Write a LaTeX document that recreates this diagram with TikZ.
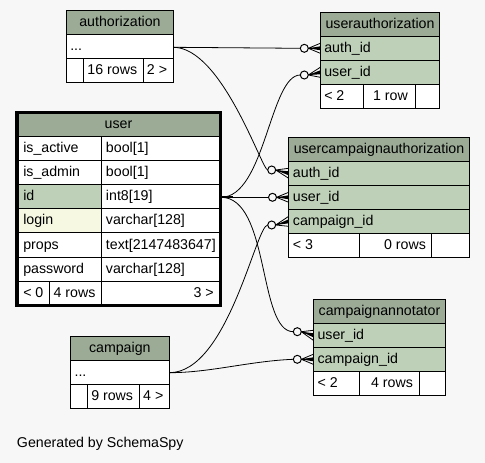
\documentclass[tikz,border=0pt]{standalone}
\usepackage{fontspec}
\setmainfont{Liberation Sans}
\newcommand\tblfont{\fontsize{10.65}{12}\selectfont}
\definecolor{bgc}{HTML}{F7F7F7}
\definecolor{hdr}{HTML}{9BAB96}
\definecolor{keyc}{HTML}{BED1B8}
\definecolor{idxc}{HTML}{F6F8E2}
\tikzset{
  txt/.style={inner sep=0pt, font=\tblfont, text=black},
  cellb/.style={draw=black, line width=0.75pt},
  conn/.style={draw=black, line width=0.6pt},
  ring/.style={draw=black, line width=0.75pt, fill=bgc},
}
\newcommand\crowft[4]{%
  \draw[conn] (#1,#2) -- (#3,#4-5) (#1,#2) -- (#3,#4) (#1,#2) -- (#3,#4+5);
  \fill[black] (#1,#2) -- (#3,#4-2) -- (#3,#4+2) -- cycle;}
\begin{document}
\begin{tikzpicture}[x=0.75pt,y=-0.75pt]
\useasboundingbox (0,0) rectangle (485,463);
\fill[bgc] (0,0) rectangle (485,463);

% ---------- authorization ----------
\filldraw[fill=hdr, cellb] (66.7,11) rectangle (173.3,35);
\filldraw[fill=white, cellb] (66.7,35) rectangle (173.3,59);
\filldraw[fill=white, cellb] (66.7,59) rectangle (83.3,83);
\filldraw[fill=white, cellb] (83.3,59) rectangle (143.3,83);
\filldraw[fill=white, cellb] (143.3,59) rectangle (173.3,83);
\node[txt, anchor=base] (authT) at (120,27) {authorization};
\node[txt, anchor=base west] (authR) at (70,51) {...};
\node[txt, anchor=base] (authF1) at (112.3,75) {16 rows};
\node[txt, anchor=base] (authF2) at (157,75) {2 >};

% ---------- userauthorization ----------
\filldraw[fill=hdr, cellb] (320.3,12.3) rectangle (439.7,36.3);
\filldraw[fill=keyc, cellb] (320.3,36.3) rectangle (439.7,60.3);
\filldraw[fill=keyc, cellb] (320.3,60.3) rectangle (439.7,84.3);
\filldraw[fill=white, cellb] (320.3,84.3) rectangle (363.3,108.3);
\filldraw[fill=white, cellb] (363.3,84.3) rectangle (415.3,108.3);
\filldraw[fill=white, cellb] (415.3,84.3) rectangle (439.7,108.3);
\node[txt, anchor=base] (uaT) at (380,28.3) {userauthorization};
\node[txt, anchor=base west] (uaR1) at (324,52.3) {auth\_id};
\node[txt, anchor=base west] (uaR2) at (324,76.3) {user\_id};
\node[txt, anchor=base west] (uaF1) at (324,100.3) {< 2};
\node[txt, anchor=base] (uaF2) at (390.5,100.3) {1 row};

% ---------- user ----------
\filldraw[fill=hdr, cellb] (18,113) rectangle (219,137);
\foreach \ya/\yb/\fa in {137/161/white,161/185/white,185/209/keyc,209/233/idxc,233/257/white,257/281/white}{
  \filldraw[fill=\fa, cellb] (18,\ya) rectangle (101.7,\yb);
  \filldraw[fill=white, cellb] (101.7,\ya) rectangle (219,\yb);
}
\filldraw[fill=white, cellb] (18,281) rectangle (49.3,305);
\filldraw[fill=white, cellb] (49.3,281) rectangle (101.7,305);
\filldraw[fill=white, cellb] (101.7,281) rectangle (219,305);
\draw[line width=2.4pt] (16.6,112.2) rectangle (220.4,305.8);
\node[txt, anchor=base] (uT) at (118.5,129) {user};
\node[txt, anchor=base west] (uN1) at (23,153) {is\_active};
\node[txt, anchor=base west] (uV1) at (105.7,153) {bool[1]};
\node[txt, anchor=base west] (uN2) at (23,177) {is\_admin};
\node[txt, anchor=base west] (uV2) at (105.7,177) {bool[1]};
\node[txt, anchor=base west] (uN3) at (23,201) {id};
\node[txt, anchor=base west] (uV3) at (105.7,201) {int8[19]};
\node[txt, anchor=base west] (uN4) at (23,225) {login};
\node[txt, anchor=base west] (uV4) at (105.7,225) {varchar[128]};
\node[txt, anchor=base west] (uN5) at (23,249) {props};
\node[txt, anchor=base west] (uV5) at (105.7,249) {text[2147483647]};
\node[txt, anchor=base west] (uN6) at (23,273) {password};
\node[txt, anchor=base west] (uV6) at (105.7,273) {varchar[128]};
\node[txt, anchor=base west] (uF1) at (23,297) {< 0};
\node[txt, anchor=base] (uF2) at (74.5,297) {4 rows};
\node[txt, anchor=base east] (uF3) at (214,297) {3 >};

% ---------- usercampaignauthorization ----------
\filldraw[fill=hdr, cellb] (288.7,137.3) rectangle (469.3,161.3);
\filldraw[fill=keyc, cellb] (288.7,161.3) rectangle (469.3,185.3);
\filldraw[fill=keyc, cellb] (288.7,185.3) rectangle (469.3,209.3);
\filldraw[fill=keyc, cellb] (288.7,209.3) rectangle (469.3,233.3);
\filldraw[fill=white, cellb] (288.7,233.3) rectangle (359.3,257.3);
\filldraw[fill=white, cellb] (359.3,233.3) rectangle (431.7,257.3);
\filldraw[fill=white, cellb] (431.7,233.3) rectangle (469.3,257.3);
\node[txt, anchor=base] (ucT) at (379,153.3) {usercampaignauthorization};
\node[txt, anchor=base west] (ucR1) at (292.7,177.3) {auth\_id};
\node[txt, anchor=base west] (ucR2) at (292.7,201.3) {user\_id};
\node[txt, anchor=base west] (ucR3) at (292.7,225.3) {campaign\_id};
\node[txt, anchor=base west] (ucF1) at (292.7,249.3) {< 3};
\node[txt, anchor=base] (ucF2) at (405,249.3) {0 rows};

% ---------- campaignannotator ----------
\filldraw[fill=hdr, cellb] (313.3,299.3) rectangle (445.7,323.3);
\filldraw[fill=keyc, cellb] (313.3,323.3) rectangle (445.7,347.3);
\filldraw[fill=keyc, cellb] (313.3,347.3) rectangle (445.7,371.3);
\filldraw[fill=white, cellb] (313.3,371.3) rectangle (359.3,395.3);
\filldraw[fill=white, cellb] (359.3,371.3) rectangle (419.3,395.3);
\filldraw[fill=white, cellb] (419.3,371.3) rectangle (445.7,395.3);
\node[txt, anchor=base] (caT) at (379.5,315.3) {campaignannotator};
\node[txt, anchor=base west] (caR1) at (317.3,339.3) {user\_id};
\node[txt, anchor=base west] (caR2) at (317.3,363.3) {campaign\_id};
\node[txt, anchor=base west] (caF1) at (317.3,387.3) {< 2};
\node[txt, anchor=base] (caF2) at (392,387.3) {4 rows};

% ---------- campaign ----------
\filldraw[fill=hdr, cellb] (70.3,336.7) rectangle (169.3,360.7);
\filldraw[fill=white, cellb] (70.3,360.7) rectangle (169.3,384.7);
\filldraw[fill=white, cellb] (70.3,384.7) rectangle (87.3,408.7);
\filldraw[fill=white, cellb] (87.3,384.7) rectangle (139.3,408.7);
\filldraw[fill=white, cellb] (139.3,384.7) rectangle (169.3,408.7);
\node[txt, anchor=base] (cT) at (119.8,352.7) {campaign};
\node[txt, anchor=base west] (cR) at (74.3,376.7) {...};
\node[txt, anchor=base] (cF1) at (112.2,400.7) {9 rows};
\node[txt, anchor=base] (cF2) at (153.3,400.7) {4 >};

% ---------- footer text ----------
\node[txt, anchor=base west] (gen) at (16.7,447.5) {Generated by SchemaSpy};

% ---------- ports ----------
\coordinate (authP) at (173.3,47.3);
\coordinate (userP) at (221,197.3);
\coordinate (userS) at (233,197.3);
\coordinate (campP) at (169.3,372.7);
\coordinate (e1) at (300.3,48.3);
\coordinate (e2) at (300.3,75);
\coordinate (e3) at (267.7,170);
\coordinate (e4) at (268.5,197.3);
\coordinate (e5) at (267.7,225);
\coordinate (e6) at (293.3,331.7);
\coordinate (e7) at (293.3,359.3);

% ---------- connectors ----------
\draw[conn] (authP) -- (e1);
\draw[conn] (authP) .. controls (222,47.3) and (262,170) .. (e3);
\draw[conn] (userP) .. controls (265,197.3) and (270,75) .. (e2);
\draw[conn] (userP) -- (e4);
\draw[conn] (userP) .. controls (270,197.3) and (258,331.7) .. (e6);
\draw[conn] (campP) .. controls (228,372.7) and (256,225) .. (e5);
\draw[conn] (campP) .. controls (210,372.7) and (250,361) .. (e7);
\draw[line width=1.5pt] (userP) -- (userS);

% ---------- ends: ring + crow's foot ----------
\draw[ring] (304.3,48.3) circle[radius=3pt];
\crowft{308.3}{48.3}{320.3}{48.3}
\draw[ring] (304.3,75) circle[radius=3pt];
\crowft{308.3}{75}{320.3}{72.3}
\draw[ring] (271.7,170) circle[radius=3pt];
\crowft{275.7}{170}{288.7}{173.3}
\draw[ring] (272.5,197.3) circle[radius=3pt];
\crowft{276.5}{197.3}{288.7}{197.3}
\draw[ring] (271.7,225) circle[radius=3pt];
\crowft{275.7}{225}{288.7}{221.3}
\draw[ring] (297.3,331.7) circle[radius=3pt];
\crowft{301.3}{331.7}{313.3}{335.3}
\draw[ring] (297.3,359.3) circle[radius=3pt];
\crowft{301.3}{359.3}{313.3}{359.3}
\end{tikzpicture}
\end{document}
